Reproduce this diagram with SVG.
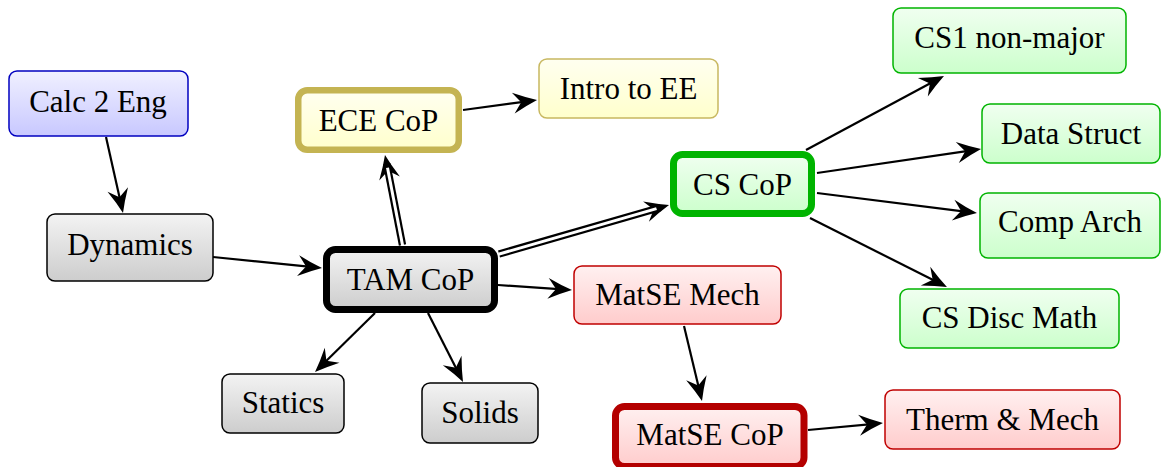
<svg xmlns="http://www.w3.org/2000/svg" width="1162" height="467" viewBox="0 0 1162 467">
<style>
.lbl{font-family:'Liberation Serif','Times New Roman',serif;font-size:31px;fill:#000;text-anchor:middle}
.thin{stroke-width:1.5}
.edge{fill:none;stroke:#000;stroke-width:2.2;marker-end:url(#head)}
.dbl{fill:none;stroke:#000;stroke-width:7.4;marker-end:url(#headD)}
.dblw{fill:none;stroke:#fff;stroke-width:3}
</style>
<defs>
<linearGradient id="gGray" x1="0" y1="0" x2="0" y2="1"><stop offset="0" stop-color="#f3f3f3"/><stop offset="1" stop-color="#cdcdcd"/></linearGradient>
<linearGradient id="gBlue" x1="0" y1="0" x2="0" y2="1"><stop offset="0" stop-color="#f0f0ff"/><stop offset="1" stop-color="#c8c8ff"/></linearGradient>
<linearGradient id="gYel" x1="0" y1="0" x2="0" y2="1"><stop offset="0" stop-color="#fffff0"/><stop offset="1" stop-color="#ffffcc"/></linearGradient>
<linearGradient id="gGrn" x1="0" y1="0" x2="0" y2="1"><stop offset="0" stop-color="#f0fff0"/><stop offset="1" stop-color="#ccffcc"/></linearGradient>
<linearGradient id="gRed" x1="0" y1="0" x2="0" y2="1"><stop offset="0" stop-color="#fff0f0"/><stop offset="1" stop-color="#ffcccc"/></linearGradient>
<marker id="head" markerUnits="userSpaceOnUse" orient="auto" refX="0" refY="0" markerWidth="40" markerHeight="40" overflow="visible">
<path d="M6,0 Q-5,-4 -18,-10.5 L-10,0 L-18,10.5 Q-5,4 6,0 Z" fill="#000"/>
</marker>
<marker id="headD" markerUnits="userSpaceOnUse" orient="auto" refX="0" refY="0" markerWidth="40" markerHeight="40" overflow="visible">
<path d="M9,0 Q-2,-4 -15,-10.5 L-7,0 L-15,10.5 Q-2,4 9,0 Z" fill="#000"/>
</marker>
</defs>

<g id="connectors">
<path class="edge" d="M106,137 L121.7,207.1"/>
<path class="edge" d="M213,257 L316,267.4"/>
<path class="edge" d="M498,285 L566,289.6"/>
<path class="edge" d="M375,313 L319.3,367.8"/>
<path class="edge" d="M428,313 L460.3,376.6"/>
<path class="edge" d="M463,110 L531.1,100.8"/>
<path class="edge" d="M806,150 L938.7,78.8"/>
<path class="edge" d="M817,173 L975.1,149.9"/>
<path class="edge" d="M817,193 L971,212.3"/>
<path class="edge" d="M810,218 L941.6,284.3"/>
<path class="edge" d="M684,326 L700.6,395.2"/>
<path class="edge" d="M808,430 L877,423.6"/>
<path class="dbl" d="M402.5,245 L386.7,163.8"/>
<path class="dblw" d="M402.7,246 L387.5,167.8"/>
<path class="dbl" d="M499,254 L660.4,207.5"/>
<path class="dblw" d="M498.5,254.2 L656.5,208.6"/>
</g>

<g id="calc2eng"><rect x="9" y="71" width="179" height="65" rx="8" fill="url(#gBlue)" stroke="#0000c0" class="thin"/><text class="lbl" x="98" y="112">Calc 2 Eng</text></g>
<g id="dynamics"><rect x="47" y="214" width="166" height="67" rx="8" fill="url(#gGray)" stroke="#000" class="thin"/><text class="lbl" x="130" y="255">Dynamics</text></g>
<g id="tamcop"><rect x="326.5" y="249.5" width="168" height="60" rx="9" fill="url(#gGray)" stroke="#000" stroke-width="7"/><text class="lbl" x="410.5" y="290">TAM CoP</text></g>
<g id="statics"><rect x="222" y="374" width="122" height="59" rx="8" fill="url(#gGray)" stroke="#000" class="thin"/><text class="lbl" x="283" y="413">Statics</text></g>
<g id="solids"><rect x="422" y="383" width="116" height="60" rx="8" fill="url(#gGray)" stroke="#000" class="thin"/><text class="lbl" x="480" y="423">Solids</text></g>
<g id="ececop"><rect x="298.25" y="90.25" width="160.5" height="59.5" rx="9" fill="url(#gYel)" stroke="#c4b452" stroke-width="6.5"/><text class="lbl" x="378.5" y="131">ECE CoP</text></g>
<g id="introee"><rect x="539" y="59" width="179" height="59" rx="8" fill="url(#gYel)" stroke="#c8b860" class="thin"/><text class="lbl" x="628.5" y="99">Intro to EE</text></g>
<g id="cscop"><rect x="673.5" y="154.5" width="138" height="59" rx="9" fill="url(#gGrn)" stroke="#00b400" stroke-width="7"/><text class="lbl" x="742.5" y="195">CS CoP</text></g>
<g id="cs1"><rect x="893" y="8" width="233" height="65" rx="8" fill="url(#gGrn)" stroke="#00b400" class="thin"/><text class="lbl" x="1009.5" y="48">CS1 non-major</text></g>
<g id="datastruct"><rect x="982" y="104" width="178" height="59" rx="8" fill="url(#gGrn)" stroke="#00b400" class="thin"/><text class="lbl" x="1071" y="144">Data Struct</text></g>
<g id="comparch"><rect x="980" y="193" width="180" height="65" rx="8" fill="url(#gGrn)" stroke="#00b400" class="thin"/><text class="lbl" x="1070" y="232">Comp Arch</text></g>
<g id="csdiscmath"><rect x="900" y="289" width="219" height="59" rx="8" fill="url(#gGrn)" stroke="#00b400" class="thin"/><text class="lbl" x="1009.5" y="328">CS Disc Math</text></g>
<g id="matsemech"><rect x="574" y="266" width="207" height="58" rx="8" fill="url(#gRed)" stroke="#c00000" class="thin"/><text class="lbl" x="677.5" y="305">MatSE Mech</text></g>
<g id="matsecop"><rect x="615.5" y="406.5" width="188.5" height="60" rx="9" fill="url(#gRed)" stroke="#b40000" stroke-width="7"/><text class="lbl" x="710" y="445">MatSE CoP</text></g>
<g id="thermmech"><rect x="885" y="390" width="235" height="59" rx="8" fill="url(#gRed)" stroke="#c00000" class="thin"/><text class="lbl" x="1002.5" y="430">Therm &amp; Mech</text></g>
</svg>
